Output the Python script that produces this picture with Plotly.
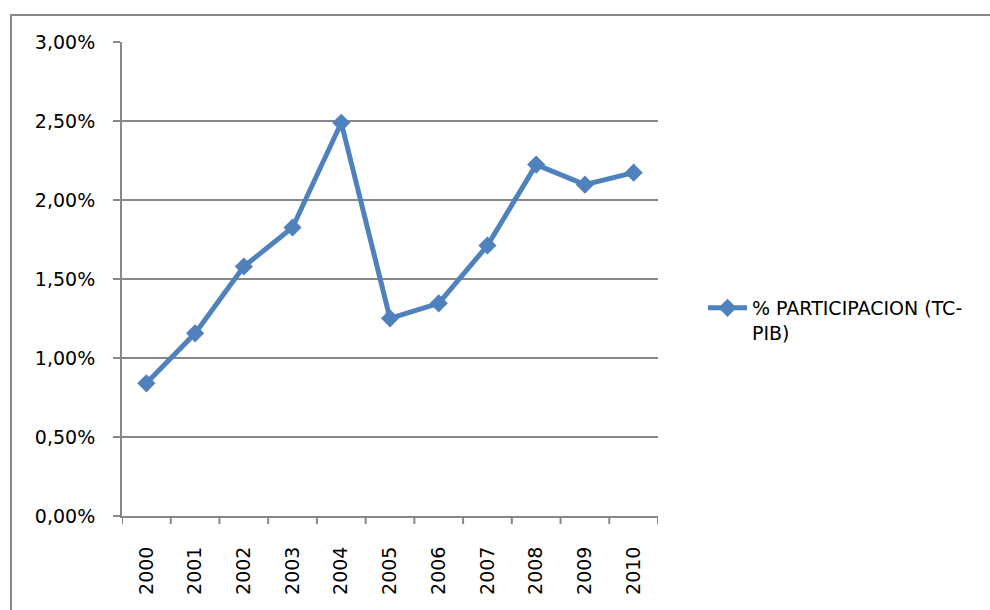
import plotly.graph_objects as go

years = ["2000", "2001", "2002", "2003", "2004", "2005", "2006", "2007", "2008", "2009", "2010"]
values = [0.840, 1.156, 1.579, 1.826, 2.489, 1.251, 1.346, 1.712, 2.224, 2.097, 2.173]
tick_vals = [0.0, 0.5, 1.0, 1.5, 2.0, 2.5, 3.0]
tick_text = ["0,00%", "0,50%", "1,00%", "1,50%", "2,00%", "2,50%", "3,00%"]
series_name = "% PARTICIPACION (TC-<br>PIB)"

W, H = 990, 610
L, R, T, B = 122, 658, 42, 516
GRAY = "#878787"

fig = go.Figure()
fig.add_trace(go.Scatter(
    x=list(range(len(years))), y=values, mode="lines+markers", name=series_name,
    line=dict(color="#4F81BD", width=5),
    marker=dict(symbol="diamond", size=14, color="#4F81BD"),
    showlegend=True,
))

fig.update_layout(
    width=W, height=H,
    margin=dict(l=L, r=W - R, t=T, b=H - B),
    paper_bgcolor="white", plot_bgcolor="white",
    font=dict(family="DejaVu Sans", size=19, color="black"),
    showlegend=True,
    legend=dict(x=(703 - L) / (R - L), y=(B - 289) / (B - T), xanchor="left", yanchor="top",
                font=dict(size=19), bgcolor="rgba(0,0,0,0)", itemwidth=39,
                valign="top", borderwidth=0),
    xaxis=dict(
        range=[-0.5, len(years) - 0.5],
        tickmode="array", tickvals=list(range(len(years))), ticktext=years,
        tickangle=-90, showgrid=False, zeroline=False,
        showline=True, linecolor=GRAY, linewidth=2,
        ticks="", ticklabelstandoff=21, fixedrange=True,
    ),
    yaxis=dict(
        range=[0, 3.0], tickmode="array", tickvals=tick_vals, ticktext=tick_text,
        showgrid=True, gridcolor=GRAY, gridwidth=2, zeroline=False,
        showline=True, linecolor=GRAY, linewidth=2,
        ticks="outside", ticklen=7, tickcolor=GRAY, tickwidth=2,
        ticklabelstandoff=14,
    ),
)

# category boundary tick marks on x axis
for i in range(len(years) + 1):
    fig.add_shape(type="line", xref="x", yref="paper",
                  x0=i - 0.5, x1=i - 0.5, y0=0, y1=-8 / (B - T),
                  line=dict(color=GRAY, width=2))

# chart border (open on the right, runs off the bottom)
fig.add_shape(type="rect", xref="paper", yref="paper",
              x0=(11 - L) / (R - L), x1=2.0,
              y0=-0.4, y1=(B - 15) / (B - T),
              line=dict(color=GRAY, width=2), fillcolor="rgba(0,0,0,0)",
              layer="below")

fig.write_html("out.html", config={"displayModeBar": False},
               post_script="document.body.style.margin='0';")
